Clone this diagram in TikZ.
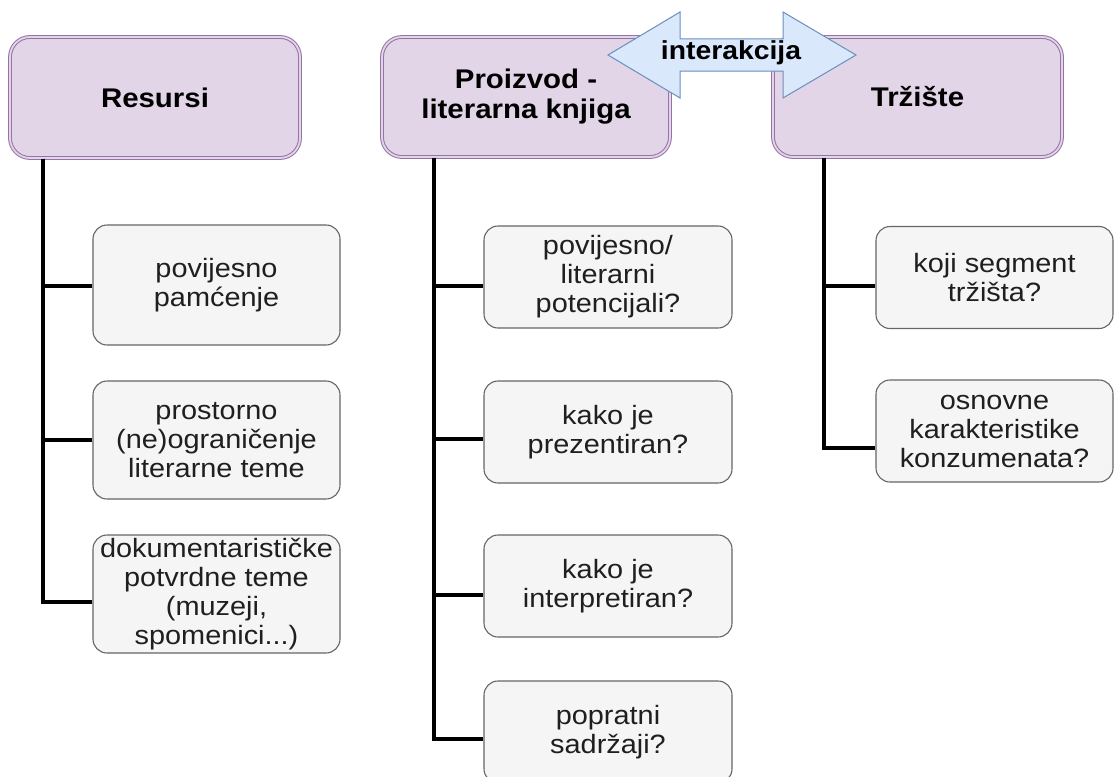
\documentclass[tikz,border=0pt]{standalone}
\usepackage{fontspec}
\setmainfont{Liberation Sans}[FakeStretch=1.09]
\begin{document}
\definecolor{hfill}{HTML}{E1D5E7}
\definecolor{hdraw}{HTML}{9673A6}
\definecolor{cfill}{HTML}{F5F5F5}
\definecolor{cdraw}{HTML}{666666}
\definecolor{afill}{HTML}{DAE8FC}
\definecolor{adraw}{HTML}{6C8EBF}
\begin{tikzpicture}[x=1pt,y=-1pt,
  header/.style={draw=hdraw, fill=hfill, double=hfill, double distance=1.8pt, line width=1pt,
    rounded corners=20pt, inner sep=0pt, align=center,
    font=\fontsize{27}{30}\selectfont\bfseries},
  childbox/.style={draw=cdraw, fill=cfill, line width=1.1pt, rounded corners=14pt,
    inner sep=0pt, align=center, text=black!88,
    font=\fontsize{26.5}{29}\selectfont},
  conn/.style={draw=black, line width=3.2pt},
]
\useasboundingbox (0,0) rectangle (1115,776);

% headers
\node[header, minimum width=290pt, minimum height=121pt] (h1) at (155,97.5) {Resursi};
\node[header, minimum width=288pt, minimum height=120pt] (h2) at (526,97) {Proizvod -\\literarna knjiga};
\node[header, minimum width=289pt, minimum height=120pt] (h3) at (917.5,97) {Tržište};

% children
\node[childbox, minimum width=247pt, minimum height=120pt] (c11) at (216.5,285) {povijesno\\pamćenje};
\node[childbox, minimum width=247pt, minimum height=118pt] (c12) at (216.5,440) {prostorno\\(ne)ograničenje\\literarne teme};
\node[childbox, minimum width=247pt, minimum height=118pt] (c13) at (216.5,594) {dokumentarističke\\potvrdne teme\\(muzeji,\\spomenici...)};

\node[childbox, minimum width=248pt, minimum height=102pt] (c21) at (608,277) {povijesno/\\literarni\\potencijali?};
\node[childbox, minimum width=248pt, minimum height=102pt] (c22) at (608,432) {kako je\\prezentiran?};
\node[childbox, minimum width=248pt, minimum height=102pt] (c23) at (608,586) {kako je\\interpretiran?};
\node[childbox, minimum width=248pt, minimum height=102pt] (c24) at (608,732) {popratni\\sadržaji?};

\node[childbox, minimum width=237pt, minimum height=102pt] (c31) at (994.5,277.5) {koji segment\\tržišta?};
\node[childbox, minimum width=237pt, minimum height=102pt] (c32) at (994.5,431) {osnovne\\karakteristike\\konzumenata?};

% trunks
\coordinate (t1) at (43,0);
\coordinate (t2) at (434,0);
\coordinate (t3) at (824,0);

\draw[conn] (h1.south -| t1) |- ([yshift=-1pt]c11.west);
\draw[conn] (h1.south -| t1) |- (c12.west);
\draw[conn] (h1.south -| t1) |- ([yshift=-8pt]c13.west);

\draw[conn] (h2.south -| t2) |- ([yshift=-9pt]c21.west);
\draw[conn] (h2.south -| t2) |- ([yshift=-7pt]c22.west);
\draw[conn] (h2.south -| t2) |- ([yshift=-9pt]c23.west);
\draw[conn] (h2.south -| t2) |- ([yshift=-7pt]c24.west);

\draw[conn] (h3.south -| t3) |- ([yshift=-8.5pt]c31.west);
\draw[conn] (h3.south -| t3) |- ([yshift=-17pt]c32.west);

% interaction arrow
\draw[draw=adraw, fill=afill, line width=1pt, line join=miter]
  (608,55) -- (680,12) -- (680,39) -- (783,39) -- (783,12) -- (856,55)
  -- (783,98) -- (783,71) -- (680,71) -- (680,98) -- cycle;
\node[font=\fontsize{26}{28}\selectfont\bfseries, inner sep=0pt] (ia) at (731,53) {interakcija};
\end{tikzpicture}
\end{document}
